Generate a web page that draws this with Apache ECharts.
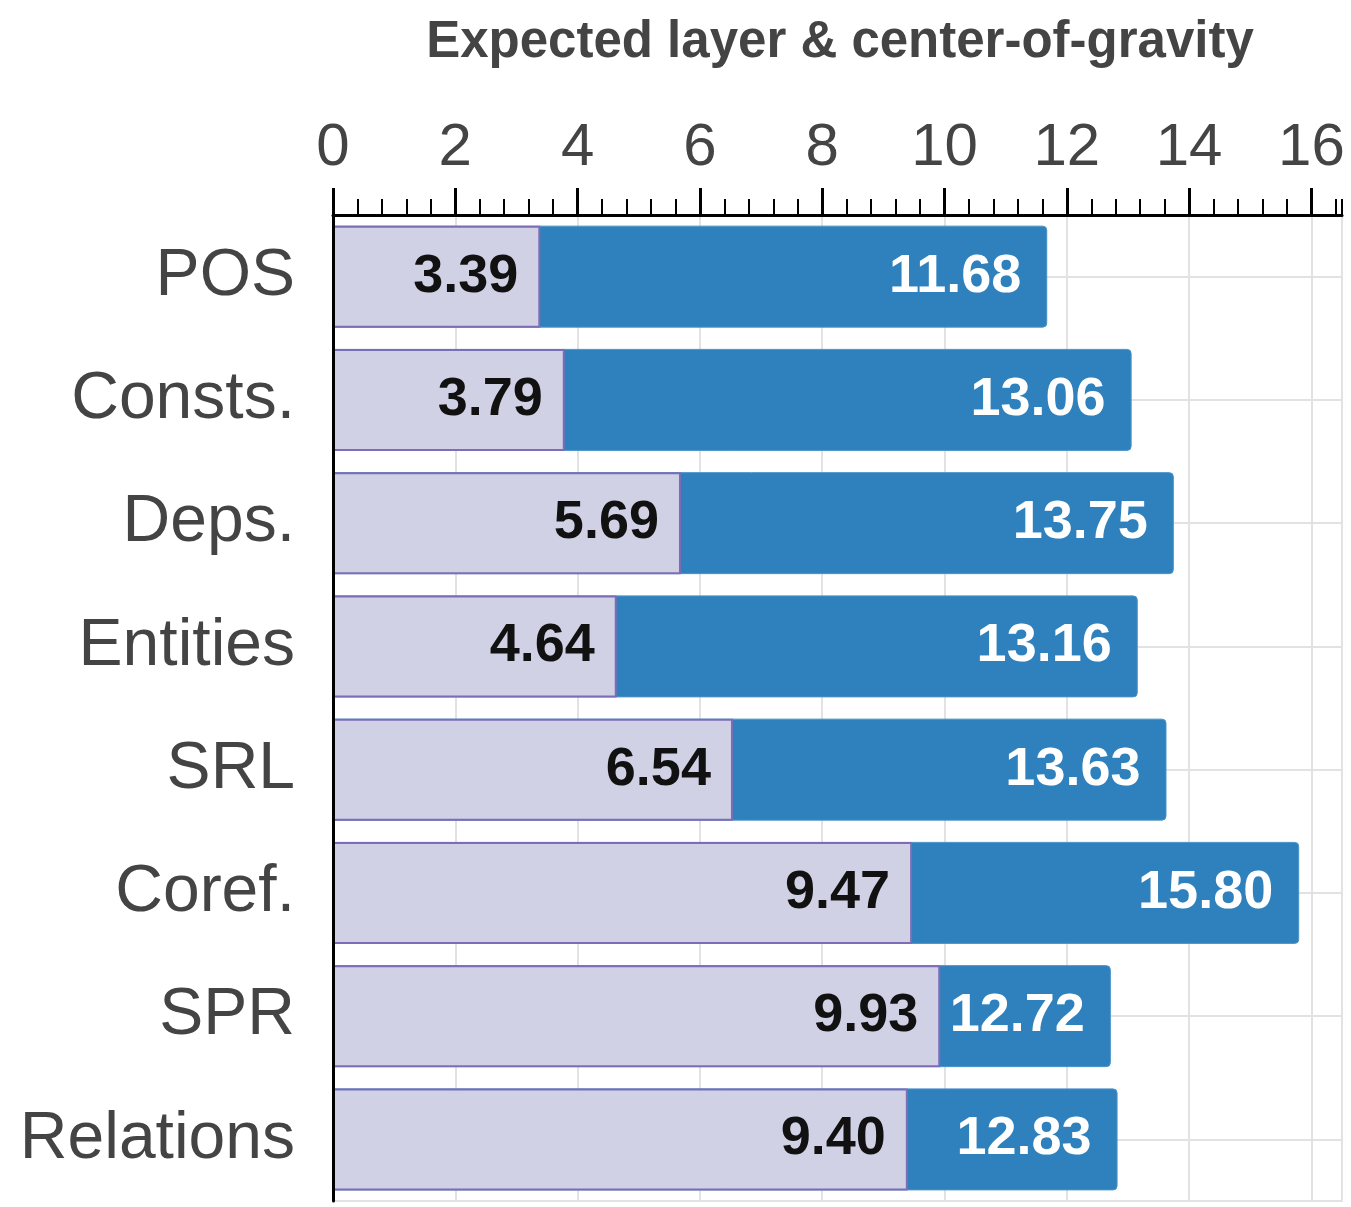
<!DOCTYPE html>
<html>
<head>
<meta charset="utf-8">
<script src="https://cdn.jsdelivr.net/npm/echarts@6/dist/echarts.min.js"></script>
<style>
  html, body { margin: 0; padding: 0; background: #fff; }
  #chart { width: 1351px; height: 1207px; }
</style>
</head>
<body>
<div id="chart"></div>
<script>
// data
var categories = ['POS', 'Consts.', 'Deps.', 'Entities', 'SRL', 'Coref.', 'SPR', 'Relations']
var expectedLayer = [3.39, 3.79, 5.69, 4.64, 6.54, 9.47, 9.93, 9.40]
var centerOfGravity = [11.68, 13.06, 13.75, 13.16, 13.63, 15.80, 12.72, 12.83]

var gridColor = '#e2e2e2'
var textColor = '#444'
var font = '"Liberation Sans", Arial, sans-serif'

var chart = echarts.init(document.getElementById('chart'))

chart.setOption({
  animation: false,
  title: {
    text: 'Expected layer & center-of-gravity',
    left: 835,
    textAlign: 'center',
    top: 12,
    textStyle: {
      fontFamily: font,
      fontSize: 51,
      fontWeight: 'bold',
      color: textColor
    }
  },
  grid: {
    left: 333,
    right: 9,
    top: 215,
    bottom: 6
  },
  xAxis: [{
    // main axis: labels and major ticks
    type: 'value',
    position: 'top',
    min: 0,
    max: 16.5,
    interval: 2,
    axisLine: { show: true, lineStyle: { color: '#000', width: 3 } },
    axisTick: { show: true, length: 27, lineStyle: { color: '#000', width: 3 } },
    axisLabel: {
      showMaxLabel: false,
      margin: 37,
      fontFamily: font,
      fontSize: 60,
      color: textColor
    },
    splitLine: { show: false },
    z: 10
  }, {
    // minor ticks
    type: 'value',
    position: 'top',
    min: 0,
    max: 16.5,
    interval: 0.4,
    axisLine: { show: false },
    axisTick: { show: true, length: 16, lineStyle: { color: '#000', width: 2 } },
    axisLabel: { show: false },
    splitLine: { show: false },
    z: 10
  }, {
    // vertical grid lines behind the bars, plus bottom border
    type: 'value',
    position: 'bottom',
    min: 0,
    max: 16.5,
    interval: 2,
    axisLine: { show: true, lineStyle: { color: gridColor, width: 2 } },
    axisTick: { show: false },
    axisLabel: { show: false },
    splitLine: { show: true, lineStyle: { color: gridColor, width: 2 } },
    z: 0
  }],
  yAxis: {
    type: 'category',
    data: categories,
    inverse: true,
    axisLine: { show: true, lineStyle: { color: '#000', width: 3 } },
    axisTick: { show: false },
    axisLabel: {
      margin: 38,
      fontFamily: font,
      fontSize: 66,
      color: textColor
    },
    splitLine: { show: false },
    z: 10
  },
  series: [{
    // horizontal grid lines through the category centres
    type: 'line',
    data: [],
    z: 1,
    silent: true,
    markLine: {
      z: 1,
      silent: true,
      symbol: 'none',
      label: { show: false },
      lineStyle: { color: gridColor, width: 2, type: 'solid' },
      data: categories.map(function (c) { return { yAxis: c } })
    }
  }, {
    name: 'center-of-gravity',
    type: 'bar',
    data: centerOfGravity,
    barWidth: 102,
    barGap: '-100%',
    z: 2,
    itemStyle: {
      color: '#2e81bc',
      borderColor: '#4a93c8',
      borderWidth: 1,
      borderRadius: [0, 4, 4, 0]
    },
    label: {
      show: true,
      position: 'insideRight',
      distance: 26,
      formatter: function (p) { return p.value.toFixed(2) },
      fontFamily: font,
      fontSize: 54,
      fontWeight: 'bold',
      color: '#fff'
    }
  }, {
    name: 'expected layer',
    type: 'bar',
    data: expectedLayer,
    barWidth: 102,
    barGap: '-100%',
    z: 3,
    itemStyle: {
      color: '#d1d1e6',
      borderColor: '#7d6db7',
      borderWidth: 2
    },
    label: {
      show: true,
      position: 'insideRight',
      distance: 22,
      formatter: function (p) { return p.value.toFixed(2) },
      fontFamily: font,
      fontSize: 54,
      fontWeight: 'bold',
      color: '#111'
    }
  }]
})
</script>
</body>
</html>
